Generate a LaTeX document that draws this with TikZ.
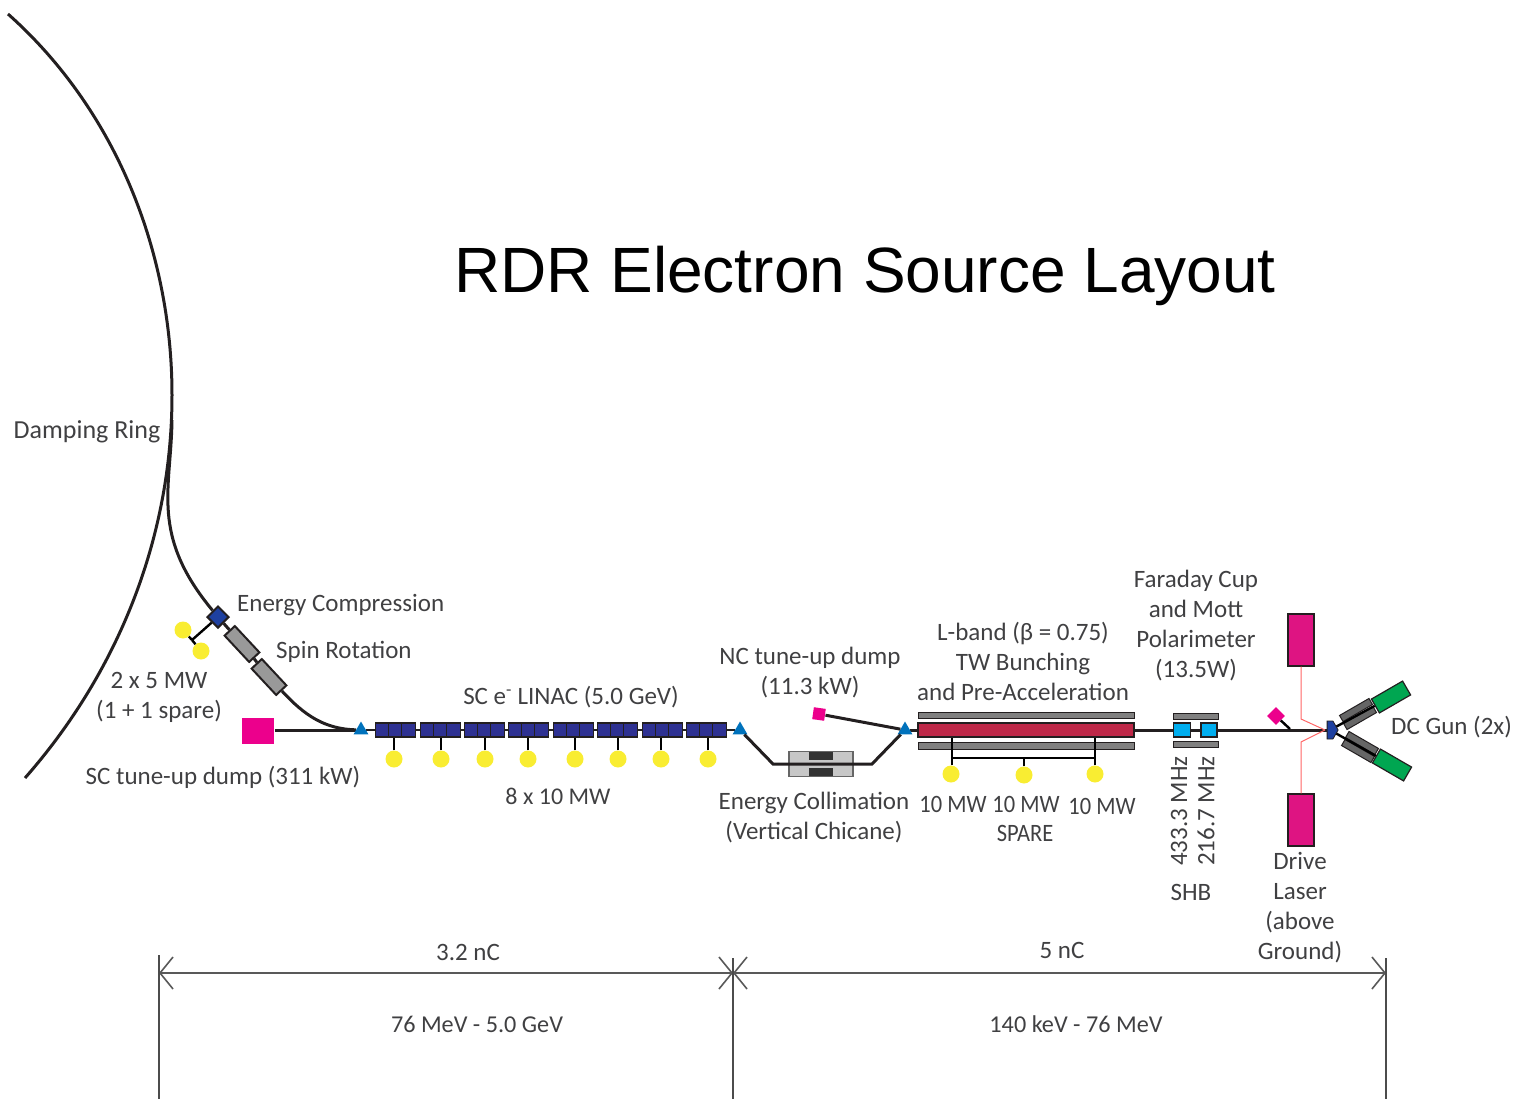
\documentclass[tikz,border=0pt]{standalone}
\usepackage{fontspec}
\setmainfont{Carlito}
\newfontfamily\titlefont{Liberation Sans}
\newfontfamily\narrowfont[FakeStretch=0.9]{Carlito}
\usetikzlibrary{arrows.meta,shapes.geometric,shapes.symbols,backgrounds}
\definecolor{txtgray}{RGB}{64,64,66}
\definecolor{linegray}{RGB}{35,31,32}
\definecolor{dumppink}{RGB}{236,0,140}
\definecolor{laserpink}{RGB}{222,20,130}
\definecolor{klyyellow}{RGB}{249,237,50}
\definecolor{cavblue}{RGB}{46,49,146}
\definecolor{ecblue}{RGB}{30,64,160}
\definecolor{tipblue}{RGB}{0,114,188}
\definecolor{twred}{RGB}{190,40,72}
\definecolor{shbcyan}{RGB}{0,174,239}
\definecolor{gungreen}{RGB}{0,166,81}
\begin{document}
\begin{tikzpicture}[x=1pt,y=-1pt,
  lbl/.style={text=txtgray,font=\fontsize{25}{30}\selectfont,align=center,inner sep=0pt},
  beam/.style={draw=linegray,line width=3pt},
  stem/.style={draw=black,line width=2.4pt},
  thinstem/.style={draw=black,line width=1.5pt},
  bx/.style={draw=linegray,line width=1.2pt,inner sep=0pt,rectangle},
  kly/.style={circle,fill=klyyellow,minimum size=17pt,inner sep=0pt},
  cav/.style={bx,fill=cavblue,minimum width=13.3pt,minimum height=14pt},
  tip/.style={regular polygon,regular polygon sides=3,fill=tipblue,minimum size=17pt,inner sep=0pt},
  gbar/.style={bx,fill=black!50,line width=1pt},
  sol/.style={gbar,fill=black!60,minimum width=34pt,minimum height=7pt},
  laserbeam/.style={draw=red!60!white,line width=1pt},
  dimline/.style={draw=black!65,line width=1.6pt,{Straight Barb[length=13pt,width=32pt]}-{Straight Barb[length=13pt,width=32pt]}},
  dimend/.style={draw=black!70,line width=1.3pt}]
  \useasboundingbox (0,0) rectangle (1515,1099);
  \node[text=black,font=\titlefont\fontsize{64}{70}\selectfont,inner sep=0pt] (title) at (865,276) {RDR Electron Source Layout};
  % injector line elements
  \node[bx,draw=none,fill=dumppink,minimum width=32pt,minimum height=26pt] (scdump) at (258,731) {};
  \node[tip] (tipa) at (361,730) {};
  \node[tip] (tipb) at (740,730) {};
  \node[tip] (tipc) at (905,730) {};
  \foreach \i/\x/\s in {1/376/394,2/421/441,3/465/485,4/509/528,5/554/575,6/598/618,7/643/661,8/687/708} {
    \foreach \k in {0,1,2}
      \node[cav] (g\i-\k) at ({\x+6.5+13*\k},730) {};
    \node[kly] (s\i) at (\s,759) {};
    \draw[stem] (s\i) -- (s\i|-g\i-1.south);
  }
  \node[bx,draw=black!60,fill=black!22,minimum width=64pt,minimum height=25pt] (colbox) at (821,764) {};
  \node[fill=black!80,minimum width=24pt,minimum height=8pt,inner sep=0pt] (jawa) at (821,756) {};
  \node[fill=black!80,minimum width=24pt,minimum height=8pt,inner sep=0pt] (jawb) at (821,772) {};
  \coordinate (chla) at (773,764);
  \coordinate (chlb) at (872,764);
  \draw[beam,line join=miter] (tipb) -- (chla) -- (chlb) -- (tipc);
  \node[bx,fill=dumppink,draw=none,minimum size=12pt,rotate=-8] (ncdump) at (819,714) {};
  \draw[beam] (ncdump) -- (tipc);
  % bunching section
  \node[bx,fill=twred,minimum width=216pt,minimum height=14pt] (tw) at (1026,730) {};
  \node[gbar,minimum width=216pt,minimum height=6pt] (twup) at (1026,715) {};
  \node[gbar,minimum width=216pt,minimum height=7pt] (twlo) at (1026,746) {};
  \node[kly] (ka) at (951,774) {};
  \node[kly] (kb) at (1024,775) {};
  \node[kly] (kc) at (1095,774) {};
  \coordinate (busa) at (952,758);
  \coordinate (busb) at (1095,758);
  \draw[thinstem] (ka.north-|busa) -- (tw.south-|busa);
  \draw[thinstem] (kc) -- (tw.south-|busb);
  \draw[thinstem] (busa) -- (busb);
  \draw[thinstem] (kb) -- (kb|-busa);
  % sub harmonic bunchers
  \node[gbar,minimum width=45pt,minimum height=6pt] (shbup) at (1195.5,716) {};
  \node[gbar,minimum width=45pt,minimum height=6pt] (shblo) at (1195.5,744) {};
  \node[bx,fill=shbcyan,minimum width=17pt,minimum height=14pt] (shba) at (1182,730) {};
  \node[bx,fill=shbcyan,minimum width=16pt,minimum height=14pt] (shbb) at (1209,730) {};
  % gun end
  \node[diamond,fill=dumppink,minimum size=18pt,inner sep=0pt] (cup) at (1276,716) {};
  \coordinate (cupfoot) at (1290,729);
  \draw[stem] (cup) -- (cupfoot);
  \node[bx,fill=laserpink,minimum width=26pt,minimum height=52pt] (lasa) at (1301,640) {};
  \node[bx,fill=laserpink,minimum width=26pt,minimum height=52pt] (lasb) at (1301,820) {};
  \coordinate (bena) at (1301,719);
  \coordinate (benb) at (1301,742);
  \coordinate (gunhit) at (1325,730);
  \node[sol,rotate=30] (sola) at (1356,710) {};
  \node[sol,rotate=30] (solb) at (1360,718) {};
  \node[sol,rotate=-30] (solc) at (1362,743) {};
  \node[sol,rotate=-30] (sold) at (1358,751) {};
  \node[bx,fill=gungreen,minimum width=36pt,minimum height=16pt,rotate=30] (guna) at (1391,697) {};
  \node[bx,fill=gungreen,minimum width=36pt,minimum height=16pt,rotate=-30] (gunb) at (1392,765) {};
  \draw[laserbeam] (lasa) -- (bena) -- (gunhit);
  \draw[laserbeam] (lasb) -- (benb) -- (gunhit);
  \coordinate (gunmid) at (1330,730);
  \draw[stem] (gunmid) -- (guna);
  \draw[stem] (gunmid) -- (gunb);
  \node[signal,signal to=east,signal pointer angle=120,draw=linegray,fill=ecblue,line width=0.8pt,inner sep=0pt,minimum width=11pt,minimum height=18pt] (gun) at (1330,730) {};
  % turn around from the ring
  \node[diamond,bx,diamond,fill=ecblue,line width=2pt,minimum size=22pt] (ecomp) at (218,617) {};
  \node[bx,fill=black!40,line width=2pt,minimum width=36pt,minimum height=14pt,rotate=-47] (srota) at (242,644) {};
  \node[bx,fill=black!40,line width=2pt,minimum width=36pt,minimum height=14pt,rotate=-47] (srotb) at (269,677) {};
  \node[kly] (ec1) at (183,630) {};
  \node[kly] (ec2) at (201,651) {};
  \coordinate (ectee) at (192,640);
  \draw[stem] (ecomp) -- (ectee);
  \draw[stem] (ectee) -- (ec1);
  \draw[stem] (ectee) -- (ec2);
  \coordinate (ringa) at (8,14);
  \coordinate (ringb) at (172,395);
  \coordinate (ringc) at (25,778);
  \coordinate (ringt) at (172,420);
  \draw[draw=linegray,line width=3pt] (ringa) .. controls (118,112) and (172,255) .. (ringb) .. controls (172,535) and (120,670) .. (ringc);
  \begin{scope}[on background layer]
    \draw[draw=linegray,line width=3pt] (ringt) .. controls (171,490) and (150,535) .. (ecomp);
    \draw[beam] (ecomp) -- (srota) -- (srotb);
    \draw[draw=linegray,line width=3pt] (srotb) .. controls (305,716) and (325,729) .. (tipa);
    \draw[beam] (scdump.east|-tipa) -- (tipa);
    \draw[beam,line width=2.5pt] (tipa) -- (tipb);
    \draw[beam] (tipc) -- (gunmid);
  \end{scope}
  % labels
  \node[lbl,font=\fontsize{26}{30}\selectfont] (ringlbl) at (87,432) {Damping Ring};
  \node[lbl,anchor=west] (eclbl) at (237,605) {Energy Compression};
  \node[lbl,anchor=west] (srlbl) at (276,652) {Spin Rotation};
  \node[lbl] (kwlbl) at (159,697) {2 x 5 MW\\(1 + 1 spare)};
  \node[lbl] (sclbl) at (223,777) {SC tune-up dump (311 kW)};
  \node[lbl] (linaclbl) at (571,697) {SC e\textsuperscript{-} LINAC (5.0 GeV)};
  \node[lbl,font=\fontsize{24}{30}\selectfont] (mwlbl) at (558,796) {8 x 10 MW};
  \node[lbl] (nclbl) at (810,673) {NC tune-up dump\\(11.3 kW)};
  \node[lbl] (collbl) at (814,818) {Energy Collimation\\(Vertical Chicane)};
  \node[lbl] (twlbl) at (1023,661) {L-band (β = 0.75)\\TW Bunching\\and Pre-Acceleration};
  \node[lbl,font=\narrowfont\fontsize{25}{30}\selectfont] (mwa) at (953,804) {10 MW};
  \node[lbl,font=\narrowfont\fontsize{25}{30}\selectfont] (mwb) at (1026,804) {10 MW};
  \node[lbl,font=\narrowfont\fontsize{25}{30}\selectfont] (mwc) at (1102,806) {10 MW};
  \node[lbl,font=\narrowfont\fontsize{25}{30}\selectfont] (sparelbl) at (1025,833) {SPARE};
  \node[lbl] (cuplbl) at (1196,626) {Faraday Cup\\and Mott\\Polarimeter\\(13.5W)};
  \node[lbl,rotate=90,anchor=east] (fa) at (1179,756) {433.3 MHz};
  \node[lbl,rotate=90,anchor=east] (fb) at (1206,756) {216.7 MHz};
  \node[lbl] (shblbl) at (1191,892) {SHB};
  \node[lbl] (laserlbl) at (1300,908) {Drive\\Laser\\(above\\Ground)};
  \node[lbl,anchor=west] (gunlbl) at (1391,727) {DC Gun (2x)};
  % charge and energy ranges
  \coordinate (dima) at (159,973);
  \coordinate (dimb) at (733,973);
  \coordinate (dimc) at (1386,973);
  \draw[dimline] (dima) -- (dimb);
  \draw[dimline] (dimb) -- (dimc);
  \draw[dimend] (159,955) -- (159,1099);
  \draw[dimend] (733,958) -- (733,1099);
  \draw[dimend] (1386,958) -- (1386,1099);
  \node[lbl] (qa) at (468,952) {3.2 nC};
  \node[lbl] (qb) at (1062,950) {5 nC};
  \node[lbl,font=\fontsize{24.2}{30}\selectfont] (ea) at (477,1024) {76 MeV - 5.0 GeV};
  \node[lbl,font=\fontsize{24.2}{30}\selectfont] (eb) at (1076,1024) {140 keV - 76 MeV};
\end{tikzpicture}
\end{document}
